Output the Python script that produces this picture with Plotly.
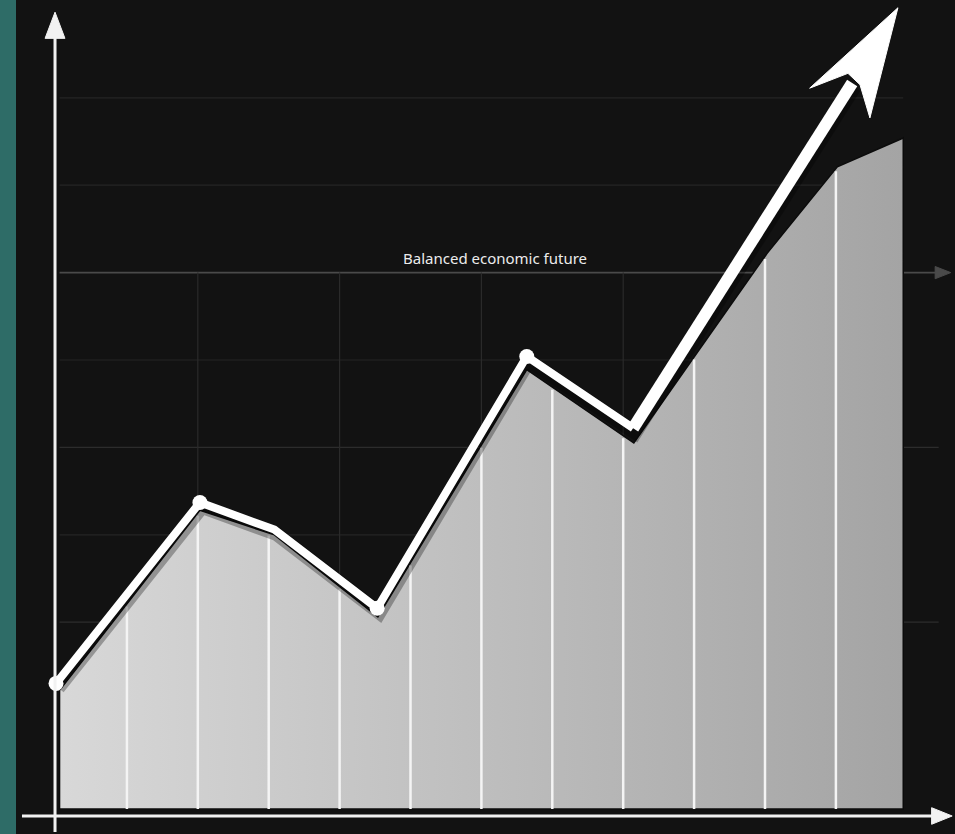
import numpy as np
import plotly.graph_objects as go

# Trend line: period index vs. index level
periods = [0.0, 2.03, 3.08, 4.53, 6.64, 8.14]
values = [1.30, 3.37, 3.06, 2.16, 5.04, 4.22]
point_sizes = [15, 15, 0, 15, 15, 0]

# Breakout leg that runs into the arrowhead
breakout_periods = [8.14, 11.23]
breakout_values = [4.22, 8.17]

# Arrowhead outline
head_periods = [11.875, 11.48, 11.34, 11.17, 10.63]
head_values = [9.03, 7.77, 8.15, 8.28, 8.11]

# Shaded area profile under the trend
area_periods = [0.05, 2.03, 3.08, 4.54, 6.64, 8.15, 8.97, 10.03, 11.02, 11.95]
area_values = [1.22, 3.28, 3.00, 2.06, 4.89, 4.05, 5.00, 6.22, 7.21, 7.54]
area_base = -0.137

grid_levels = [0, 1, 2, 3, 4, 5, 6, 7, 8]
grid_periods = [1, 2, 3, 4, 5, 6, 7, 8, 9, 10, 11]
upper_grid_periods = [2, 4, 6, 8]

title_text = "Balanced economic future"

BG = "#121212"
X_RANGE = [-0.790, 12.680]
Y_RANGE = [-0.423, 9.119]
AXIS_Y = -0.217
AXIS_X = -0.014

fig = go.Figure()


def segments(pairs):
    xs, ys = [], []
    for (x0, y0), (x1, y1) in pairs:
        xs += [x0, x1, None]
        ys += [y0, y1, None]
    return xs, ys


# horizontal grid
for lvl in grid_levels:
    if lvl == 6:
        color, x_end, w = "#4a4a4a", 12.50, 1.6
    elif lvl in (2, 4):
        color, x_end, w = "#2c2c2c", 12.45, 1.2
    else:
        color, x_end, w = "#242424", 11.95, 1.2
    fig.add_trace(go.Scatter(x=[0.05, x_end], y=[lvl, lvl], mode="lines",
                             line=dict(color=color, width=w), hoverinfo="skip"))
# small arrow on the highlighted level
fig.add_trace(go.Scatter(x=[12.40, 12.62, 12.40, 12.40], y=[6.07, 6.0, 5.93, 6.07],
                         mode="lines", fill="toself", fillcolor="#4a4a4a",
                         line=dict(color="#4a4a4a", width=1), hoverinfo="skip"))

# faint verticals above the area
area_top = np.interp(upper_grid_periods, area_periods, area_values)
xs, ys = segments([((p, t), (p, 6.0)) for p, t in zip(upper_grid_periods, area_top)])
fig.add_trace(go.Scatter(x=xs, y=ys, mode="lines",
                         line=dict(color="#2a2a2a", width=1.2), hoverinfo="skip"))

# shaded area with horizontal gradient
poly_x = list(area_periods) + [area_periods[-1], area_periods[0], area_periods[0]]
poly_y = list(area_values) + [area_base, area_base, area_values[0]]
fig.add_trace(go.Scatter(
    x=poly_x, y=poly_y, mode="lines", fill="toself",
    fillgradient=dict(type="horizontal",
                      colorscale=[[0, "#d8d8d8"], [0.5, "#bebebe"], [1, "#a4a4a4"]]),
    line=dict(color="#0c0c0c", width=1.5), hoverinfo="skip"))

# white period lines inside the area
tops = np.interp(grid_periods, area_periods, area_values)
xs, ys = segments([((p, area_base), (p, t - 0.03)) for p, t in zip(grid_periods, tops)])
fig.add_trace(go.Scatter(x=xs, y=ys, mode="lines",
                         line=dict(color="#f4f4f4", width=2.5), hoverinfo="skip"))

# soft shadow beneath the trend
full_x = periods + breakout_periods[1:]
full_y = values + breakout_values[1:]
fig.add_trace(go.Scatter(x=[p + 0.03 for p in full_x], y=[v - 0.05 for v in full_y],
                         mode="lines", line=dict(color="rgba(0,0,0,0.3)", width=14),
                         hoverinfo="skip"))

# trend line and breakout
fig.add_trace(go.Scatter(x=breakout_periods, y=breakout_values, mode="lines",
                         line=dict(color="#ffffff", width=12), hoverinfo="skip"))
fig.add_trace(go.Scatter(x=periods, y=values, mode="lines+markers",
                         line=dict(color="#ffffff", width=8),
                         marker=dict(color="#ffffff", size=point_sizes, opacity=1,
                                     line=dict(width=0)),
                         hoverinfo="skip"))
fig.add_trace(go.Scatter(x=head_periods + [head_periods[0]], y=head_values + [head_values[0]],
                         mode="lines", fill="toself", fillcolor="#ffffff",
                         line=dict(color="#ffffff", width=1), hoverinfo="skip"))

# axes with arrowheads
fig.add_trace(go.Scatter(x=[AXIS_X, AXIS_X], y=[-0.40, 8.72], mode="lines",
                         line=dict(color="#f2f2f2", width=3), hoverinfo="skip"))
fig.add_trace(go.Scatter(x=[AXIS_X - 0.14, AXIS_X, AXIS_X + 0.14, AXIS_X - 0.14],
                         y=[8.68, 8.98, 8.68, 8.68], mode="lines", fill="toself",
                         fillcolor="#f2f2f2", line=dict(color="#f2f2f2", width=1),
                         hoverinfo="skip"))
fig.add_trace(go.Scatter(x=[-0.48, 12.40], y=[AXIS_Y, AXIS_Y], mode="lines",
                         line=dict(color="#f2f2f2", width=3), hoverinfo="skip"))
fig.add_trace(go.Scatter(x=[12.35, 12.64, 12.35, 12.35],
                         y=[AXIS_Y + 0.095, AXIS_Y, AXIS_Y - 0.095, AXIS_Y + 0.095],
                         mode="lines", fill="toself", fillcolor="#f2f2f2",
                         line=dict(color="#f2f2f2", width=1), hoverinfo="skip"))

fig.add_annotation(x=6.19, y=6.17, text=title_text, showarrow=False,
                   font=dict(family="Noto Sans", size=15, color="#ececec"))

# teal band on the left edge
fig.add_shape(type="rect", xref="paper", yref="paper", x0=0, x1=16 / 955, y0=0, y1=1,
              fillcolor="#2e6c67", line=dict(width=0), layer="above")

fig.update_layout(
    width=955, height=834,
    margin=dict(l=0, r=0, t=0, b=0),
    paper_bgcolor=BG, plot_bgcolor=BG,
    showlegend=False,
    xaxis=dict(range=X_RANGE, visible=False, fixedrange=True),
    yaxis=dict(range=Y_RANGE, visible=False, fixedrange=True),
)

fig.write_html("out.html")
